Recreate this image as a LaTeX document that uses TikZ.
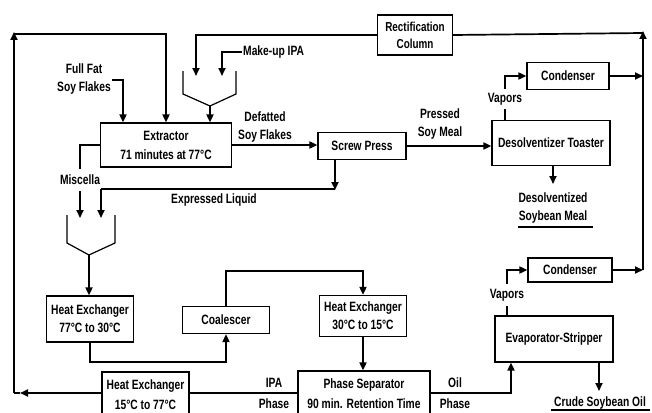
\documentclass[tikz,border=0pt]{standalone}
\usepackage{fontspec}
\setmainfont{Liberation Sans}[FakeStretch=0.76]
\usetikzlibrary{arrows.meta}
\begin{document}
\begin{tikzpicture}[x=1pt,y=-1pt,
  every node/.style={font=\bfseries\fontsize{13.5}{18}\selectfont},
  box/.style={draw,line width=1.2pt,align=center,inner sep=0pt},
  lbl/.style={align=center,inner sep=1pt},
  flow/.style={line width=1.7pt},
  arr/.style={line width=1.7pt,-{Triangle[length=8pt,width=7pt]}},
]
\useasboundingbox (0,0) rectangle (652,412);
% boxes
\node[box,minimum width=75pt,minimum height=40pt,font=\bfseries\fontsize{13}{17}\selectfont] (rect) at (415,35) {Rectification\\Column};
\node[box,minimum width=131pt,minimum height=44pt,font=\bfseries\fontsize{13.5}{19}\selectfont] (ext) at (166,145) {Extractor\\71 minutes at 77°C};
\node[box,minimum width=88pt,minimum height=27pt] (screw) at (362,146) {Screw Press};
\node[box,minimum width=118pt,minimum height=45pt] (des) at (551,143) {Desolventizer Toaster};
\node[box,minimum width=82pt,minimum height=27pt] (cond1) at (568,76) {Condenser};
\node[box,minimum width=84pt,minimum height=24pt] (cond2) at (570,270) {Condenser};
\node[box,minimum width=118pt,minimum height=46pt] (evap) at (554,339) {Evaporator-Stripper};
\node[box,minimum width=87pt,minimum height=46pt] (hx1) at (90,319) {Heat Exchanger\\77°C to 30°C};
\node[box,minimum width=87pt,minimum height=27pt] (coal) at (226,320) {Coalescer};
\node[box,minimum width=87pt,minimum height=41pt] (hx2) at (363,316) {Heat Exchanger\\30°C to 15°C};
\node[box,minimum width=132pt,minimum height=46pt,font=\bfseries\fontsize{13.5}{20}\selectfont] (phase) at (364,394) {Phase Separator\\90 min. Retention Time};
\node[box,minimum width=87pt,minimum height=46pt,font=\bfseries\fontsize{13.5}{20}\selectfont] (hx3) at (145.5,395) {Heat Exchanger\\15°C to 77°C};
% labels
\node[lbl] (fullfat) at (84,79) {Full Fat\\Soy Flakes};
\node[lbl,anchor=west] (makeup) at (242,52) {Make-up IPA};
\node[lbl] (defat) at (265,127) {Defatted\\Soy Flakes};
\node[lbl] (pressed) at (440,124) {Pressed\\Soy Meal};
\node[lbl,inner sep=0pt,minimum height=20pt] (vap1) at (505,99) {Vapors};
\node[lbl,inner sep=0pt,minimum height=22pt] (vap2) at (507,295) {Vapors};
\node[lbl] (desolv) at (553,208) {Desolventized\\Soybean Meal};
\node[lbl] (crude) at (600,403) {Crude Soybean Oil};
\node[lbl,inner sep=0pt,minimum height=22pt] (misc) at (80,180) {Miscella};
\node[lbl] (expr) at (214,200) {Expressed Liquid};
\node[lbl,font=\bfseries\fontsize{13.5}{21}\selectfont] (ipa) at (274,393) {IPA\\Phase};
\node[lbl,font=\bfseries\fontsize{13.5}{21}\selectfont] (oil) at (455,393) {Oil\\Phase};
% coordinates
\coordinate (TL) at (14,34);
\coordinate (BL) at (14,393);
\coordinate (TR) at (643,33);
\coordinate (f1) at (210,106);
\coordinate (f2) at (89,255);
\coordinate (j1) at (335,189);
\coordinate (j2) at (101,189);
\coordinate (c1) at (226,271);
\coordinate (c2) at (90,362);
\coordinate (o1) at (511,393);
% funnels
\draw[line width=1.2pt] (183,71) -- (183,94) -- (f1) -- (236,94) -- (236,71);
\draw[line width=1.2pt] (67,215) -- (67,243) -- (f2) -- (115,243) -- (115,215);
% connectors
\draw[arr] (ext.east) -- (ext.east -| screw.west);
\draw[arr] (screw.east) -- (screw.east -| des.west);
\draw[flow] (des.north -| vap1) -- (vap1.south);
\draw[arr] (vap1.north) |- (cond1.west);
\draw[arr] (cond1.east) -- (cond1.east -| TR);
\draw[arr] (cond2.east) -- (cond2.east -| TR);
\draw[arr] (cond2.east -| TR) -- ([yshift=2pt]TR);
\draw[flow] (TR) -- (rect.east);
\draw[arr] (rect.west) -| (196,76);
\draw[arr] (makeup.west) -| (222,76);
\draw[arr] (f1) -- (f1 |- ext.north);
\draw[arr] (fullfat.east |- 0,80) -| (123,0 |- ext.north);
\draw[arr] (BL) -- ([yshift=2pt]TL);
\draw[arr] (TL) -| (166,0 |- ext.north);
\draw[flow] (ext.west) -| (misc.north);
\draw[arr] (misc.south) -- (80,218);
\draw[arr] (screw.south -| j1) -- ([yshift=-1pt]j1);
\draw[flow] (j1) -- (j2);
\draw[arr] (j2) -- (101,218);
\draw[arr] (f2) -- (f2 |- hx1.north);
\draw[arr] (hx1.south) -- (c2) -| (coal.south);
\draw[arr] (coal.north) -- (c1) -| (hx2.north);
\draw[arr] (hx2.south) -- (hx2.south |- phase.north);
\draw[flow] (phase.west |- 0,393) -- (hx3.east |- 0,393);
\draw[arr] (hx3.west |- 0,393) -- (20,393);
\draw[flow] (20,393) -- (BL);
\draw[arr] (phase.east |- o1) -- (o1) -- (o1 |- evap.south);
\draw[flow] (evap.north -| vap2) -- (vap2.south);
\draw[arr] (vap2.north) |- (cond2.west);
\draw[arr] (599,0 |- evap.south) -- (599,391);
\draw[arr] (553,0 |- des.south) -- (553,184);
% underlines
\draw[line width=1.2pt] (518,227) -- (593,227);
\draw[line width=1.2pt] (551,410) -- (650,410);
\end{tikzpicture}
\end{document}
